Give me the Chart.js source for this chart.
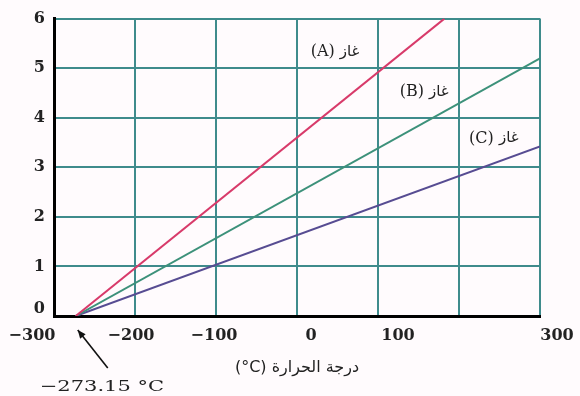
<!DOCTYPE html>
<html dir="ltr">
<head>
<meta charset="utf-8">
<script src="https://cdn.jsdelivr.net/npm/chart.js@4.4.1/dist/chart.umd.min.js"></script>
<style>
  html, body { margin: 0; padding: 0; background: #fffbfd; direction: ltr; }
  #wrap { width: 580px; height: 396px; position: relative; }
  canvas { direction: ltr; }
</style>
</head>
<body>
<div id="wrap"><canvas id="c" width="580" height="396" dir="ltr"></canvas></div>
<script>
// ---- data ----
const xTickValues = [-300, -200, -100, 0, 100, 200, 300];
const hiddenXTicks = [200];
const yTickValues = [0, 1, 2, 3, 4, 5, 6];
const absoluteZero = -273.15;
const seriesLetters = ['A', 'B', 'C'];
const gasWord = 'غاز';
const seriesEndX = [182, 300, 300];
const seriesEndY = [6, 5.2, 3.42];
const seriesColors = ['#d83a6a', '#3d917a', '#574c92'];
const labelAnchorsX = [47, 157, 243];
const labelAnchorsY = [5.32, 4.52, 3.58];
const xTitleUnit = '(°C)';
const xTitleWords = 'درجة الحرارة';
const zeroNote = '−273.15 °C';
// label nudges seen in the reference (pixels)
const xLabelNudge = [-22, -4, -2, 14, 20, 0, 17];
const yLabelNudge = [-7, 0, 0, 0, 0, 0, 0];

const LRM = '\u200E';

const datasets = seriesLetters.map((L, i) => ({
  label: '(' + L + ') ' + gasWord,
  data: [{x: absoluteZero, y: 0}, {x: seriesEndX[i], y: seriesEndY[i]}],
  borderColor: seriesColors[i],
  borderWidth: 2,
  pointRadius: 0,
  showLine: true,
  fill: false,
  tension: 0
}));

const fmt = v => (v < 0 ? '−' + Math.abs(v) : String(v));

const nudge = {
  id: 'nudge',
  beforeDraw(chart) {
    const xi = chart.scales.x.getLabelItems();
    xi.forEach((it, i) => { if (xLabelNudge[i]) it.options.translation[0] += xLabelNudge[i]; });
    const yi = chart.scales.y.getLabelItems();
    yi.forEach((it, i) => { if (yLabelNudge[i]) it.options.translation[1] += yLabelNudge[i]; });
  }
};

const annotate = {
  id: 'annotate',
  afterDatasetsDraw(chart) {
    const ctx = chart.ctx;
    const xs = chart.scales.x, ys = chart.scales.y;
    ctx.save();
    ctx.direction = 'ltr';
    // series labels: "(X)" on the left, Arabic word on the right
    const latinFont = '16px "DejaVu Serif", serif';
    const arabicFont = '15px "DejaVu Sans", sans-serif';
    ctx.fillStyle = '#222';
    ctx.textAlign = 'left';
    ctx.textBaseline = 'middle';
    seriesLetters.forEach((L, i) => {
      const part1 = '(' + L + ') ';
      ctx.font = latinFont;
      const w1 = ctx.measureText(part1).width;
      ctx.font = arabicFont;
      const w2 = ctx.measureText(gasWord).width;
      const cx = xs.getPixelForValue(labelAnchorsX[i]);
      const cy = ys.getPixelForValue(labelAnchorsY[i]);
      const x0 = cx - (w1 + w2) / 2;
      ctx.font = latinFont;
      ctx.fillText(part1, x0, cy);
      ctx.font = arabicFont;
      ctx.fillText(gasWord, x0 + w1, cy);
    });
    // absolute zero note + arrow
    const px = xs.getPixelForValue(absoluteZero);
    const py = ys.getPixelForValue(0);
    const tipX = px + 2, tipY = py + 14;
    const tailX = px + 32, tailY = py + 52;
    ctx.strokeStyle = '#111';
    ctx.fillStyle = '#111';
    ctx.lineWidth = 1.6;
    ctx.beginPath();
    ctx.moveTo(tailX, tailY);
    ctx.lineTo(tipX, tipY);
    ctx.stroke();
    const ang = Math.atan2(tipY - tailY, tipX - tailX);
    ctx.beginPath();
    ctx.moveTo(tipX, tipY);
    ctx.lineTo(tipX - 9 * Math.cos(ang - 0.4), tipY - 9 * Math.sin(ang - 0.4));
    ctx.lineTo(tipX - 9 * Math.cos(ang + 0.4), tipY - 9 * Math.sin(ang + 0.4));
    ctx.closePath();
    ctx.fill();
    ctx.font = '15px "DejaVu Serif", serif';
    ctx.textAlign = 'left';
    ctx.textBaseline = 'alphabetic';
    ctx.fillStyle = '#222';
    ctx.translate(px - 36, py + 75);
    ctx.scale(1.4, 1);
    ctx.fillText(zeroNote, 0, 0);
    ctx.restore();
  }
};

const bg = {
  id: 'bg',
  beforeDraw(chart) {
    const ctx = chart.ctx;
    ctx.save();
    ctx.fillStyle = '#fffbfd';
    ctx.fillRect(0, 0, chart.width, chart.height);
    ctx.restore();
    chart.ctx.direction = 'ltr';
  }
};

new Chart(document.getElementById('c'), {
  type: 'scatter',
  data: { datasets },
  options: {
    responsive: false,
    animation: false,
    devicePixelRatio: 1,
    layout: { padding: { top: 15, right: 40, left: 0, bottom: 0 } },
    plugins: { legend: { display: false }, tooltip: { enabled: false } },
    scales: {
      x: {
        type: 'linear',
        min: -300, max: 300,
        afterBuildTicks: s => { s.ticks = xTickValues.map(v => ({ value: v })); },
        afterFit: s => { s.height = 80; },
        grid: { color: '#3f8b8c', lineWidth: 2, drawTicks: false },
        border: { color: '#000', width: 3 },
        ticks: {
          padding: 10,
          color: '#222',
          maxRotation: 0,
          autoSkip: false,
          font: { family: '"DejaVu Serif", serif', size: 16, weight: 'bold' },
          callback: v => hiddenXTicks.includes(v) ? '' : fmt(v)
        },
        title: {
          display: true,
          text: LRM + xTitleUnit + ' ' + LRM + xTitleWords,
          color: '#222',
          font: { family: '"DejaVu Sans", sans-serif', size: 16 },
          padding: { top: 0, bottom: 19 }
        }
      },
      y: {
        type: 'linear',
        min: 0, max: 6,
        afterBuildTicks: s => { s.ticks = yTickValues.map(v => ({ value: v })); },
        afterFit: s => { s.width = 54; },
        grid: { color: '#3f8b8c', lineWidth: 2, drawTicks: false },
        border: { color: '#000', width: 3 },
        ticks: {
          padding: 9,
          color: '#222',
          font: { family: '"DejaVu Serif", serif', size: 16, weight: 'bold' },
          callback: v => fmt(v)
        }
      }
    }
  },
  plugins: [bg, nudge, annotate]
});
</script>
</body>
</html>
